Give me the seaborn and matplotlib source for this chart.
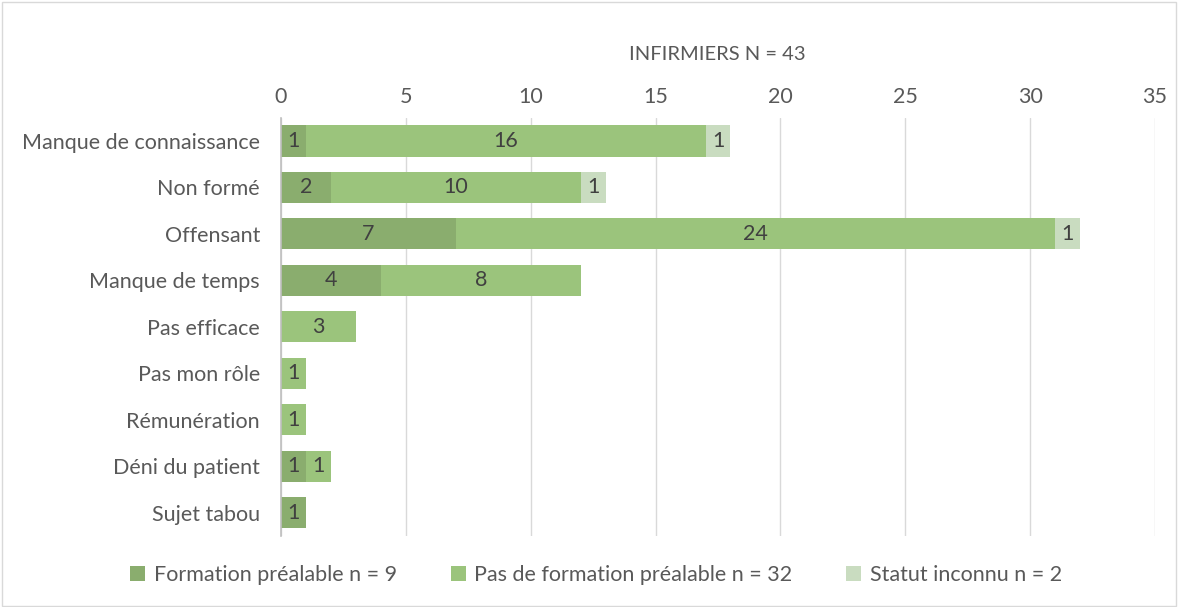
import matplotlib
matplotlib.use("Agg")
import matplotlib.pyplot as plt
import seaborn as sns
import pandas as pd
import numpy as np
from matplotlib.patches import Patch, Rectangle

categories = ["Manque de connaissance", "Non formé", "Offensant", "Manque de temps",
              "Pas efficace", "Pas mon rôle", "Rémunération", "Déni du patient", "Sujet tabou"]
formation = [1, 2, 7, 4, 0, 0, 0, 1, 1]
pas_formation = [16, 10, 24, 8, 3, 1, 1, 1, 0]
inconnu = [1, 1, 1, 0, 0, 0, 0, 0, 0]
series_names = ["Formation préalable n = 9", "Pas de formation préalable n = 32", "Statut inconnu n = 2"]
colors = ["#8aad6e", "#9bc47c", "#c9dcc0"]
title = "INFIRMIERS N = 43"

sns.set_style("white")
plt.rcParams["font.family"] = ["Lato", "DejaVu Sans"]
text_color = "#595959"
fs = 15.5

fig = plt.figure(figsize=(11.78, 6.07), dpi=100)
ax = fig.add_axes([0.2385, 0.117, 0.742, 0.689])

vals = np.array([formation, pas_formation, inconnu], dtype=float)
cum = np.cumsum(vals, axis=0)
df = pd.DataFrame({"cat": categories})
# draw cumulative totals from largest to smallest (overlay = stacked)
for i in [2, 1, 0]:
    d = df.copy()
    d["v"] = cum[i]
    sns.barplot(data=d, y="cat", x="v", orient="h", color=colors[i], saturation=1,
                width=0.67, ax=ax, order=categories, linewidth=0)

ax.set_xlim(0, 35)
ax.set_xticks(np.arange(0, 36, 5))
ax.xaxis.tick_top()
ax.tick_params(axis="x", length=0, labelsize=fs, colors=text_color, pad=8)
ax.tick_params(axis="y", length=0, labelsize=fs, colors=text_color, pad=15)
ax.set_xlabel("")
ax.set_ylabel("")
ax.grid(axis="x", color="#d9d9d9", linewidth=1)
ax.set_axisbelow(True)
for s in ["top", "right", "bottom"]:
    ax.spines[s].set_visible(False)
ax.spines["left"].set_color("#bfbfbf")
ax.spines["left"].set_linewidth(1.2)
ax.set_ylim(len(categories) - 0.5, -0.5)

# segment labels
for i in range(3):
    start = cum[i] - vals[i]
    for j, v in enumerate(vals[i]):
        if v > 0:
            ax.text(start[j] + v / 2, j, f"{int(v)}", ha="center", va="center",
                    fontsize=fs, color="#404040")

fig.text(0.609, 0.91, title, ha="center", va="center", fontsize=14.5, color=text_color)

handles = [Patch(facecolor=c, edgecolor="none") for c in colors]
fig.legend(handles, series_names, loc="center", bbox_to_anchor=(0.506, 0.052), ncol=3,
           frameon=False, fontsize=fs, labelcolor=text_color, handlelength=0.7,
           handleheight=0.7, handletextpad=0.4, columnspacing=2.5)

fig.patches.append(Rectangle((0.002, 0.002), 0.996, 0.994, transform=fig.transFigure,
                             fill=False, edgecolor="#d9d9d9", linewidth=1))

fig.savefig("out.png", dpi=100)
